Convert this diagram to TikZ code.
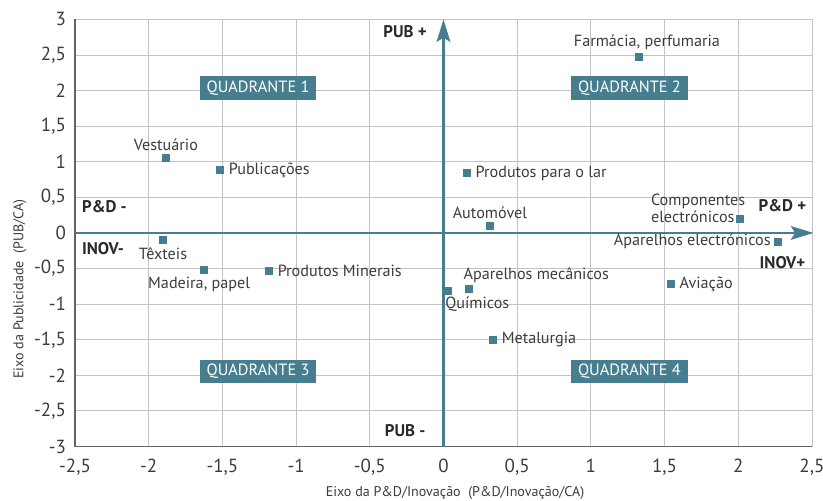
\documentclass[tikz,border=0pt]{standalone}
\usepackage{fontspec}
\setmainfont{PT Sans}
\usetikzlibrary{arrows.meta,positioning}
\definecolor{petrol}{RGB}{70,126,143}
\definecolor{grade}{RGB}{195,195,195}
\definecolor{texto}{RGB}{60,60,60}
\tikzset{
  ponto/.style={fill=petrol, minimum size=0.2cm, inner sep=0pt},
  rotulo/.style={text=texto, font=\fontsize{11.5}{12.5}\selectfont, inner sep=1pt},
  quadrante/.style={fill=petrol, text=white, minimum width=2.92cm, minimum height=0.58cm, inner sep=0pt, font=\fontsize{11.6}{12}\selectfont},
  polo/.style={text=texto!70!black, font=\fontsize{12}{12}\selectfont\bfseries, inner sep=0pt},
  marca/.style={text=texto, font=\fontsize{13.5}{14}\selectfont, inner sep=0pt},
  titulo/.style={text=texto, font=\fontsize{10}{11}\selectfont, inner sep=0pt},
  eixo/.style={petrol, line width=2pt, -{Stealth[length=0.56cm, width=0.34cm, inset=0.1cm]}}
}

\begin{document}
\begin{tikzpicture}[x=3.685cm, y=1.78cm]
\useasboundingbox (-3.009,-3.764) rectangle (2.575,3.272);

% grelha e eixos do grafico
\draw[grade, line width=0.6pt] (-2.5,-3) grid[xstep=0.5, ystep=0.5] (2.5,3);
\draw[texto!80, line width=0.8pt] (-2.5,3) -- (-2.5,-3) -- (2.5,-3);

\foreach \v/\t in {-3/-3, -2.5/{-2,5}, -2/-2, -1.5/{-1,5}, -1/-1, -0.5/{-0,5}, 0/0, 0.5/{0,5}, 1/1, 1.5/{1,5}, 2/2, 2.5/{2,5}, 3/3}
  \node[marca, anchor=east] at ([xshift=-0.22cm]-2.5,\v) {\t};
\foreach \v/\t in {-2.5/{-2,5}, -2/-2, -1.5/{-1,5}, -1/-1, -0.5/{-0,5}, 0/0, 0.5/{0,5}, 1/1, 1.5/{1,5}, 2/2, 2.5/{2,5}}
  \node[marca, anchor=north] at ([yshift=-0.3cm]\v,-3) {\t};

\node[titulo, rotate=90] (ytit) at (-2.873,-0.79) {Eixo da Publicidade\ \ (PUB/CA)};
\node[titulo] (xtit) at (0.078,-3.65) {Eixo da P\&D/Inovação\ \ (P\&D/Inovação/CA)};

% eixos centrais
\coordinate (oeste) at (-2.5,0);
\coordinate (leste) at (2.51,0);
\coordinate (sul) at (0,-3);
\coordinate (norte) at (0,3);
\draw[eixo] (oeste) -- (leste);
\draw[eixo] (sul) -- (norte);

\node[polo] (pubmais) at (-0.26,2.83) {PUB +};
\node[polo] (pubmenos) at (-0.26,-2.78) {PUB -};
\node[polo] (pdmenos) at (-2.3,0.365) {P\&D -};
\node[polo] (inovmenos) at (-2.31,-0.22) {INOV-};
\node[polo] (pdmais) at (2.30,0.38) {P\&D +};
\node[polo] (inovmais) at (2.30,-0.41) {INOV+};

\node[quadrante] (q1) at (-1.258,2.035) {QUADRANTE 1};
\node[quadrante] (q2) at (1.262,2.035) {QUADRANTE 2};
\node[quadrante] (q3) at (-1.258,-1.945) {QUADRANTE 3};
\node[quadrante] (q4) at (1.262,-1.945) {QUADRANTE 4};

% sectores
\node[ponto] (farm) at (1.326,2.476) {};
\node[ponto] (vest) at (-1.883,1.053) {};
\node[ponto] (publ) at (-1.516,0.885) {};
\node[ponto] (lar) at (0.159,0.843) {};
\node[ponto] (auto) at (0.315,0.098) {};
\node[ponto] (comp) at (2.01,0.197) {};
\node[ponto] (apel) at (2.27,-0.122) {};
\node[ponto] (text) at (-1.903,-0.1) {};
\node[ponto] (made) at (-1.625,-0.52) {};
\node[ponto] (mine) at (-1.184,-0.534) {};
\node[ponto] (quim) at (0.03,-0.815) {};
\node[ponto] (apmec) at (0.173,-0.79) {};
\node[ponto] (avia) at (1.543,-0.716) {};
\node[ponto] (meta) at (0.336,-1.5) {};

\node[rotulo, above=1pt of farm, xshift=0.2cm] {Farmácia, perfumaria};
\node[rotulo, above=1pt of vest] {Vestuário};
\node[rotulo, right=2pt of publ] {Publicações};
\node[rotulo, right=2pt of lar] {Produtos para o lar};
\node[rotulo, above=1pt of auto] {Automóvel};
\node[rotulo, align=left, anchor=south east, inner sep=0pt] at ([xshift=1pt]comp.south east) {Componentes\\electrónicos};
\node[rotulo, left=1pt of apel] {Aparelhos electrónicos};
\node[rotulo, below=1pt of text] {Têxteis};
\node[rotulo, below=1pt of made, xshift=-0.12cm] {Madeira, papel};
\node[rotulo, right=2pt of mine] {Produtos Minerais};
\node[rotulo, anchor=north west] at (quim.south west) {Químicos};
\node[rotulo, anchor=south west] at ([xshift=-2pt]apmec.north west) {Aparelhos mecânicos};
\node[rotulo, right=2pt of avia] {Aviação};
\node[rotulo, right=2pt of meta] {Metalurgia};
\end{tikzpicture}
\end{document}
